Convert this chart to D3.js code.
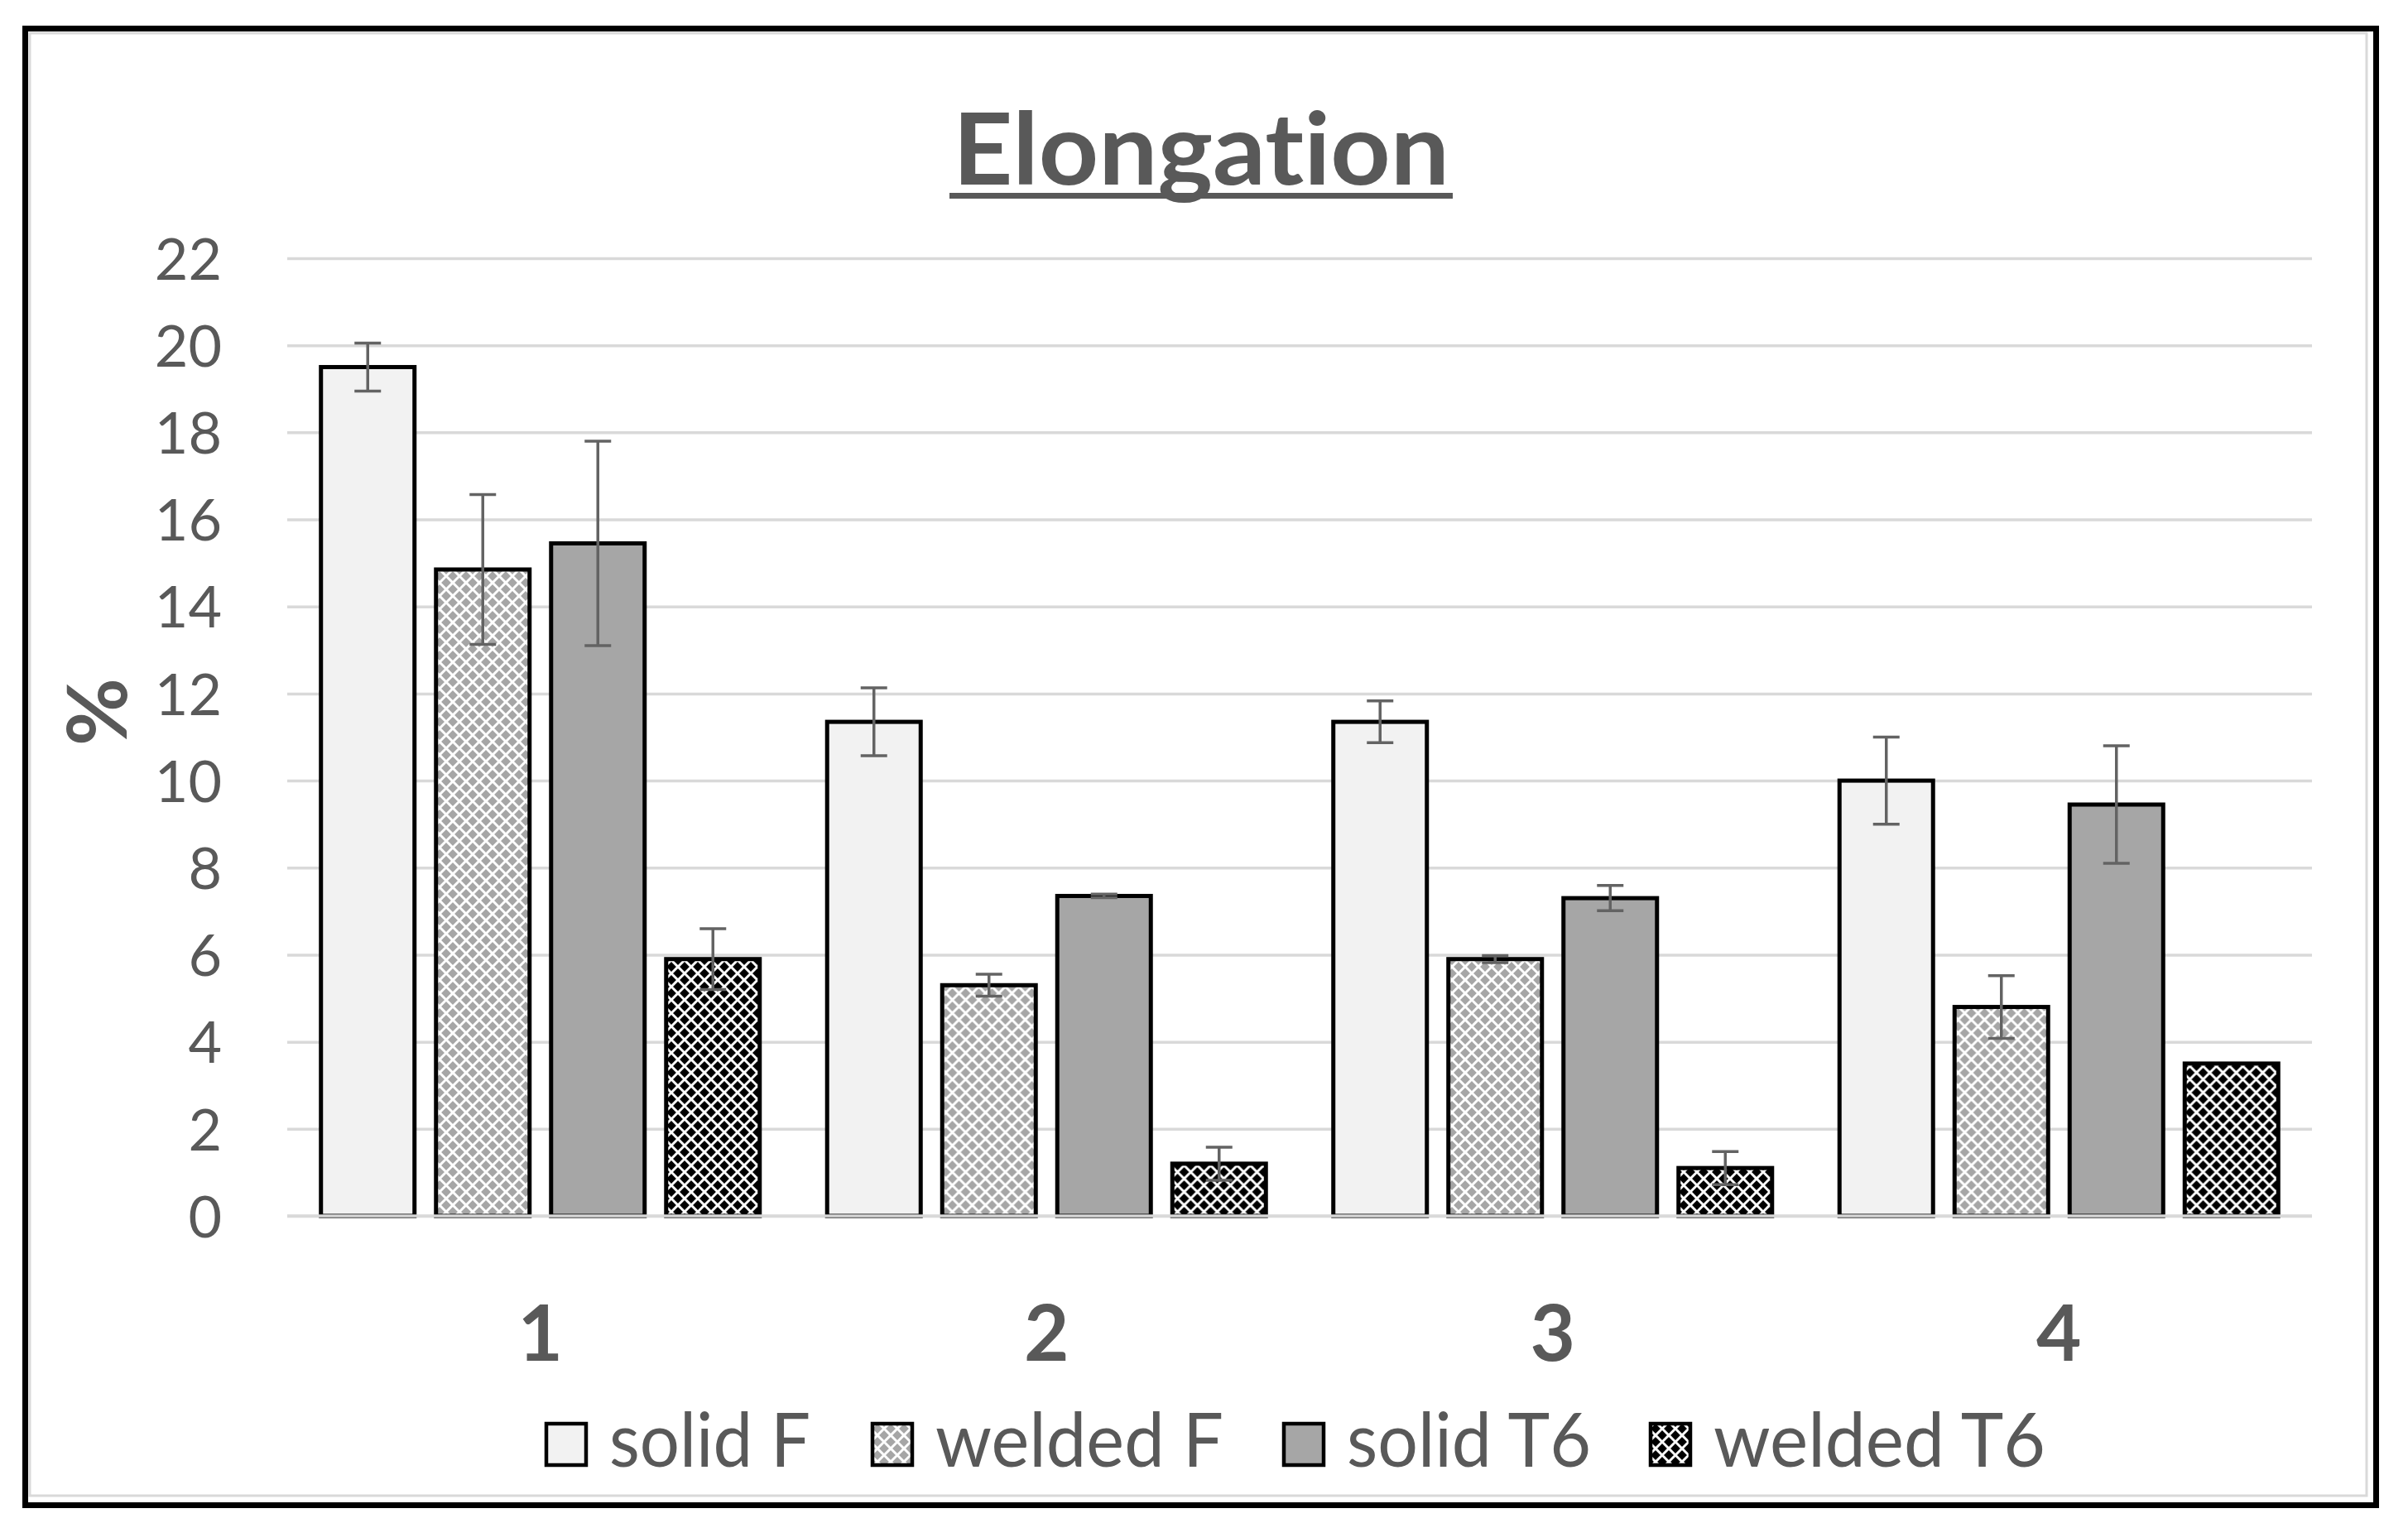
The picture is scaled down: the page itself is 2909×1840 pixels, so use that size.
<!DOCTYPE html>
<html>
<head>
<meta charset="utf-8">
<script src="https://cdn.jsdelivr.net/npm/d3@7"></script>
<style>
html,body{margin:0;padding:0;background:#fff;}
svg{display:block;}
text{font-variant-ligatures:none;font-feature-settings:"liga" 0, "clig" 0, "dlig" 0;}
</style>
</head>
<body>
<svg id="chart" width="2909" height="1840"></svg>
<script>
// ---- data ----
const categories = ["1", "2", "3", "4"];
const seriesNames = ["solid F", "welded F", "solid T6", "welded T6"];
const solidF   = [19.5, 11.35, 11.35, 10.0];
const weldedF  = [14.85, 5.3, 5.9, 4.8];
const solidT6  = [15.45, 7.35, 7.3, 9.45];
const weldedT6 = [5.9, 1.2, 1.1, 3.5];
const solidFErr   = [0.55, 0.78, 0.48, 1.0];
const weldedFErr  = [1.72, 0.25, 0.08, 0.72];
const solidT6Err  = [2.35, 0.04, 0.29, 1.35];
const weldedT6Err = [0.7, 0.38, 0.38, 0];
const yTicks = [0, 2, 4, 6, 8, 10, 12, 14, 16, 18, 20, 22];
const titleText = "Elongation";
const yTitle = "%";

const seriesValues = [solidF, weldedF, solidT6, weldedT6];
const seriesErrors = [solidFErr, weldedFErr, solidT6Err, weldedT6Err];

// ---- layout ----
const W = 2909, H = 1840;
const plot = {left: 347, right: 2793, top: 312, bottom: 1469};
const textColor = "#595959";
const font = "Lato, 'Open Sans', sans-serif";

const svg = d3.select("#chart");

// patterns
const defs = svg.append("defs");
function makePattern(id, bg) {
  const p = defs.append("pattern").attr("id", id)
    .attr("patternUnits", "userSpaceOnUse").attr("width", 16).attr("height", 16);
  p.append("rect").attr("width", 16).attr("height", 16).attr("fill", bg);
  p.append("path").attr("d", "M0,8 L8,0 L16,8 L8,16 Z")
    .attr("fill", "none").attr("stroke", "#fff").attr("stroke-width", 3);
}
makePattern("patWeldedF", "#a6a6a6");
makePattern("patWeldedT6", "#000");
const fills = ["#f2f2f2", "url(#patWeldedF)", "#a6a6a6", "url(#patWeldedT6)"];

// background + frame
svg.append("rect").attr("x", 0).attr("y", 0).attr("width", W).attr("height", H).attr("fill", "#fff");
svg.append("rect").attr("x", 36).attr("y", 40).attr("width", 2823).attr("height", 1767)
  .attr("fill", "none").attr("stroke", "#d9d9d9").attr("stroke-width", 3);
svg.append("rect").attr("x", 30.5).attr("y", 34.5).attr("width", 2840).attr("height", 1784)
  .attr("fill", "none").attr("stroke", "#000").attr("stroke-width", 7);

// scales
const x0 = d3.scaleBand().domain(categories).range([plot.left, plot.right]).padding(0);
const x1 = d3.scaleBand().domain(seriesNames).range([0, x0.bandwidth()])
  .paddingInner(0.187).paddingOuter(0.293);
const y = d3.scaleLinear().domain([0, 22]).range([plot.bottom, plot.top]);

// grid + y axis
const yAxis = d3.axisLeft(y).tickValues(yTicks)
  .tickSize(-(plot.right - plot.left)).tickPadding(79).tickFormat(d3.format("d"));
const gy = svg.append("g").attr("transform", `translate(${plot.left},0)`).call(yAxis);
gy.select(".domain").remove();
gy.selectAll(".tick line").attr("stroke", "#d9d9d9").attr("stroke-width", 3.5);
gy.selectAll(".tick text").attr("fill", textColor).attr("font-family", font)
  .attr("font-size", 70).attr("dy", "0.36em");

// bars
const groups = svg.append("g").selectAll("g").data(categories).join("g")
  .attr("transform", d => `translate(${x0(d)},0)`);
groups.each(function(cat, ci) {
  const g = d3.select(this);
  seriesNames.forEach((s, si) => {
    const v = seriesValues[si][ci];
    g.append("rect")
      .attr("x", x1(s)).attr("y", y(v))
      .attr("width", x1.bandwidth()).attr("height", y(0) - y(v))
      .attr("fill", fills[si]).attr("stroke", "#000").attr("stroke-width", 5);
  });
});
// baseline
svg.append("line").attr("x1", plot.left).attr("x2", plot.right)
  .attr("y1", y(0)).attr("y2", y(0)).attr("stroke", "#d9d9d9").attr("stroke-width", 3.5);

// error bars
groups.each(function(cat, ci) {
  const g = d3.select(this);
  seriesNames.forEach((s, si) => {
    const v = seriesValues[si][ci], e = seriesErrors[si][ci];
    if (!e) return;
    const cx = x1(s) + x1.bandwidth() / 2;
    const eg = g.append("g").attr("stroke", "#636363").attr("stroke-width", 3.5);
    eg.append("line").attr("x1", cx).attr("x2", cx).attr("y1", y(v + e)).attr("y2", y(v - e));
    eg.append("line").attr("x1", cx - 16).attr("x2", cx + 16).attr("y1", y(v + e)).attr("y2", y(v + e));
    eg.append("line").attr("x1", cx - 16).attr("x2", cx + 16).attr("y1", y(v - e)).attr("y2", y(v - e));
  });
});

// category labels
svg.append("g").selectAll("text").data(categories).join("text")
  .attr("x", d => x0(d) + x0.bandwidth() / 2).attr("y", 1644)
  .attr("text-anchor", "middle").attr("font-family", font).attr("font-weight", 700)
  .attr("font-size", 94).attr("fill", textColor).text(d => d);

// title
svg.append("text").attr("x", 1451).attr("y", 223).attr("text-anchor", "middle")
  .attr("font-family", font).attr("font-weight", 700).attr("font-size", 121)
  .style("font-variant-ligatures", "none").style("font-feature-settings", "'liga' 0")
  .attr("fill", textColor).attr("textLength", 600).attr("lengthAdjust", "spacingAndGlyphs")
  .text(titleText);
svg.append("rect").attr("x", 1147).attr("y", 233).attr("width", 608).attr("height", 7).attr("fill", textColor);

// y title
svg.append("text").attr("transform", "translate(153,860) rotate(-90)")
  .attr("text-anchor", "middle").attr("font-family", font).attr("font-weight", 700)
  .attr("font-size", 100).attr("fill", textColor).text(yTitle);

// legend
const legendX = [658, 1052, 1549, 1992];
const legendW = [243, 348, 295, 401];
const lg = svg.append("g").selectAll("g").data(seriesNames).join("g")
  .attr("transform", (d, i) => `translate(${legendX[i]},1718)`);
lg.append("rect").attr("x", 2).attr("y", 2).attr("width", 48).attr("height", 50)
  .attr("fill", (d, i) => fills[i]).attr("stroke", "#000").attr("stroke-width", 4.5);
lg.append("text").attr("x", 78).attr("y", 54)
  .attr("font-family", font).attr("font-size", 92).attr("fill", textColor)
  .attr("textLength", (d, i) => legendW[i]).attr("lengthAdjust", "spacingAndGlyphs")
  .text(d => d);
</script>
</body>
</html>
